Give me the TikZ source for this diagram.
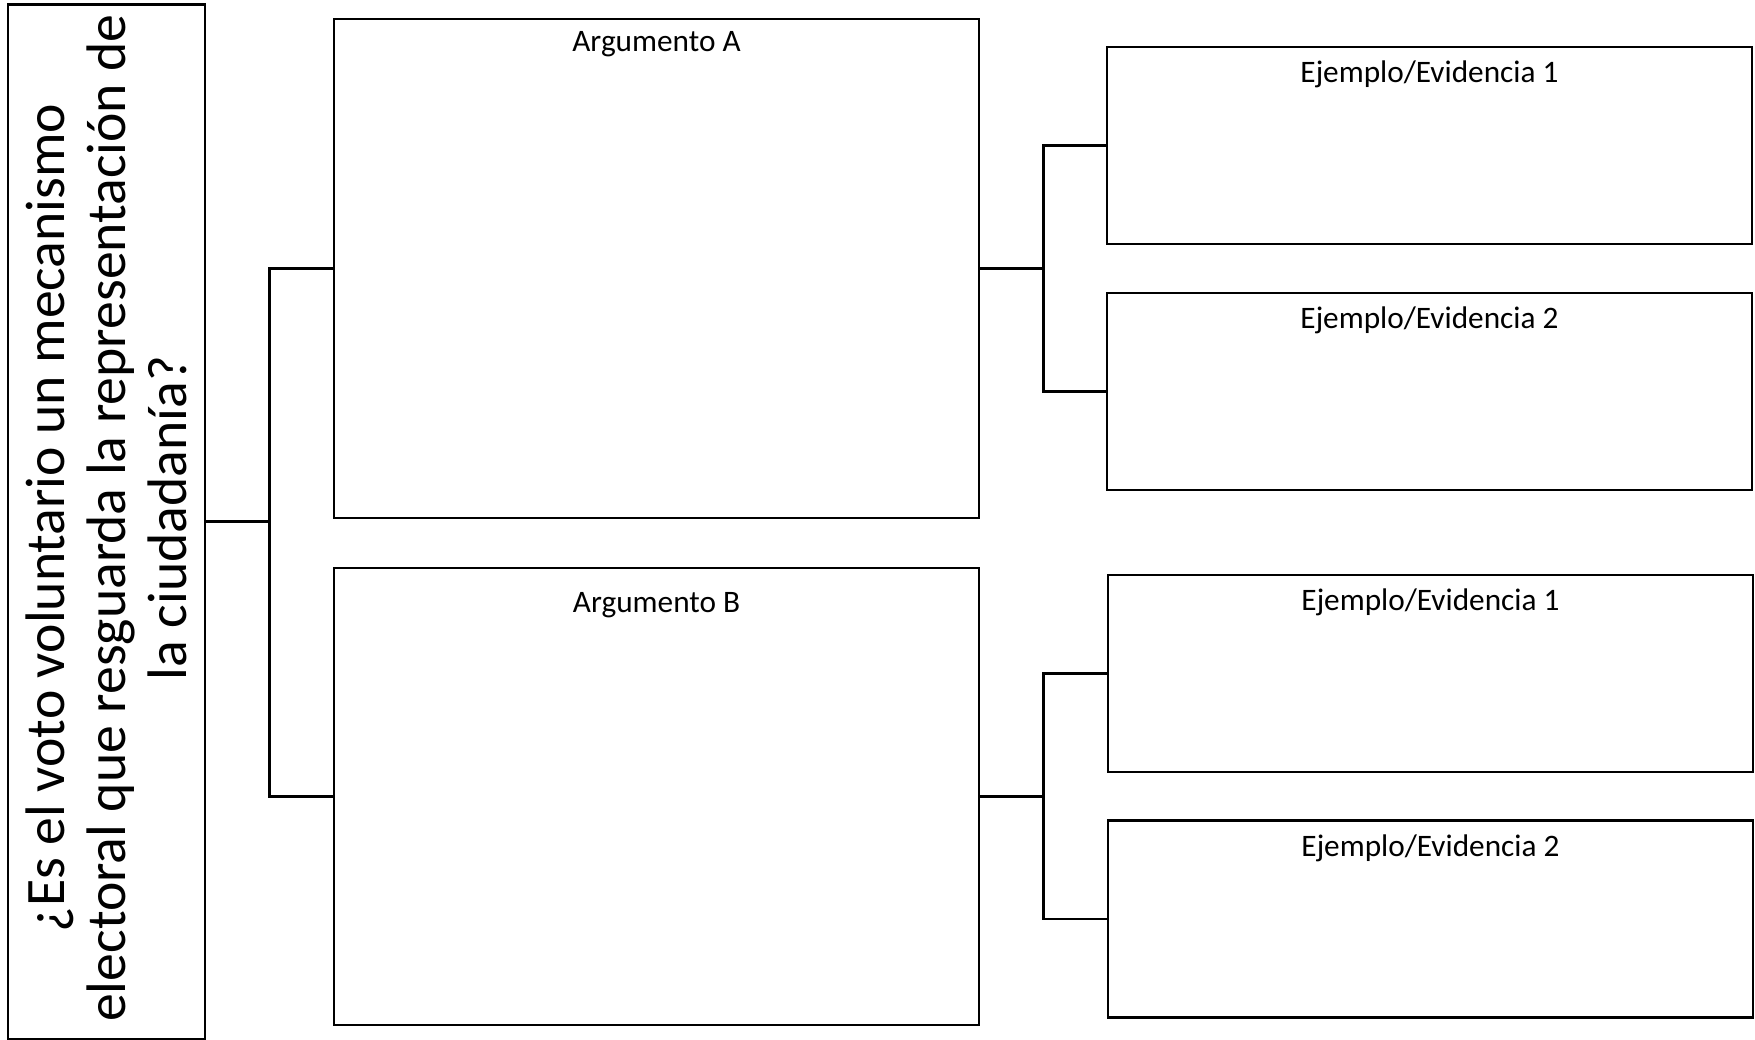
\documentclass[tikz,border=0pt]{standalone}
\usepackage{fontspec}
\setmainfont{Carlito}
\usetikzlibrary{positioning}
\tikzset{
  caja/.style={draw, line width=1.6pt, rectangle, inner sep=0pt, minimum width=12.9cm},
  titulo/.style={font=\fontsize{17.8}{21}\selectfont, inner sep=0pt, anchor=base}
}
\begin{document}
\begin{tikzpicture}[x=0.02cm,y=-0.02cm, line width=1.6pt]
\useasboundingbox (0,0) rectangle (1755,1039);

% pregunta
\node[draw, line width=1.6pt, minimum width=3.94cm, minimum height=20.7cm, inner sep=0pt] (preg) at (106.5,521.5) {};
\node[rotate=90, align=center, font=\fontsize{31.7}{34.7}\selectfont, inner sep=0pt] (pregtxt) at (106,518)
  {¿Es el voto voluntario un mecanismo\\electoral que resguarda la representación de\\la ciudadanía?};

% argumentos
\node[caja, minimum height=9.98cm] (argA) at (656.5,268.5) {};
\node[caja, minimum height=9.14cm] (argB) at (656.5,796.5) {};
\node[titulo] (tA) at ([shift={(0,34)}]argA.north) {Argumento A};
\node[titulo] (tB) at ([shift={(0,46)}]argB.north) {Argumento B};

% ejemplos
\foreach \n/\x/\y/\k in {evA1/1429.5/145.5/1, evA2/1429.5/391.5/2, evB1/1430.5/673.5/1, evB2/1430.5/919/2}
{
    \node[caja, minimum height=3.94cm] (\n) at (\x,\y) {};
    \node[titulo] (t\n) at ([shift={(0,37)}]\n.north) {Ejemplo/Evidencia \k};
}

% conectores
\draw (preg.east) -- ++(63,0) coordinate (jq);
\draw (argA.west) -| (jq) |- (argB.west);
\draw (argA.east) -- ++(63,0) coordinate (jA);
\draw (evA1.west) -| (jA) |- (evA2.west);
\draw (argB.east) -- ++(63,0) coordinate (jB);
\draw (evB1.west) -| (jB) |- (evB2.west);
\end{tikzpicture}
\end{document}
